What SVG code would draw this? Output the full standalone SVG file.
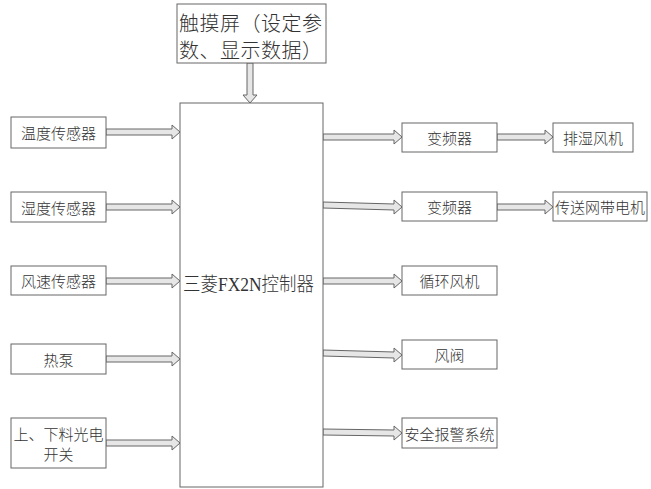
<svg xmlns="http://www.w3.org/2000/svg" width="651" height="489" viewBox="0 0 651 489">
<style>
rect.box{fill:#fff;stroke:#666;stroke-width:1}
text{font-family:"Noto Sans CJK SC","Liberation Sans",sans-serif;fill:#333;font-weight:300}
text.ctl{font-family:"Liberation Serif","Noto Sans CJK SC",serif;font-size:19px;dominant-baseline:central}
.t15{font-size:15px;text-anchor:middle;dominant-baseline:central}
.t20{font-size:20px;dominant-baseline:central}
.arr{fill:#e6e6e6;stroke:#666;stroke-width:1;stroke-linejoin:miter}
</style>
<rect width="651" height="489" fill="#fff"/>
<g id="connectors">
<polygon class="arr" points="247,63 253,63 253,95 257,95 250,103 243,95 247,95"/>
<polygon class="arr" points="106,129 172,129 172,125 180,132 172,139 172,135 106,135"/>
<polygon class="arr" points="106,204 172,204 172,200 180,207 172,214 172,210 106,210"/>
<polygon class="arr" points="106,278 172,278 172,274 180,281 172,288 172,284 106,284"/>
<polygon class="arr" points="106,356 172,356 172,352 180,359 172,366 172,362 106,362"/>
<polygon class="arr" points="106,440 172,440 172,436 180,443 172,450 172,446 106,446"/>
<polygon class="arr" points="323,134 394,134 394,130 402,137 394,144 394,140 323,140"/>
<polygon class="arr" points="323,202 394,204 394,200 402,207 394,214 394,210 323,208"/>
<polygon class="arr" points="323,278 394,278 394,274 402,281 394,288 394,284 323,284"/>
<polygon class="arr" points="323,350 394,352 394,348 402,355 394,362 394,358 323,356"/>
<polygon class="arr" points="323,429 394,430 394,426 402,433 394,440 394,436 323,435"/>
<polygon class="arr" points="497,134 545,134 545,130 553,137 545,144 545,140 497,140"/>
<polygon class="arr" points="497,204 545,204 545,200 553,207 545,214 545,210 497,210"/>
</g>
<g id="touch">
<rect class="box" x="177" y="4" width="149" height="59"/>
<text class="t20" x="179" y="22" textLength="143" lengthAdjust="spacing">触摸屏（设定参</text>
<text class="t20" x="179" y="49" textLength="143" lengthAdjust="spacing">数、显示数据）</text>
</g>
<g id="controller">
<rect class="box" x="180" y="103" width="143" height="384"/>
<text class="ctl" x="183" y="284" textLength="131" lengthAdjust="spacingAndGlyphs">三菱FX2N控制器</text>
</g>
<g id="temp">
<rect class="box" x="11" y="117" width="95" height="31"/>
<text class="t15" x="58.5" y="132.5">温度传感器</text>
</g>
<g id="humid">
<rect class="box" x="11" y="192" width="95" height="30"/>
<text class="t15" x="58.5" y="207">湿度传感器</text>
</g>
<g id="wind">
<rect class="box" x="11" y="266" width="95" height="29"/>
<text class="t15" x="58.5" y="280.5">风速传感器</text>
</g>
<g id="heatpump">
<rect class="box" x="11" y="344" width="95" height="30"/>
<text class="t15" x="58.5" y="359">热泵</text>
</g>
<g id="photo">
<rect class="box" x="11" y="418" width="95" height="50"/>
<text class="t15" x="58.5" y="433">上、下料光电</text>
<text class="t15" x="58.5" y="453">开关</text>
</g>
<g id="vfd1">
<rect class="box" x="402" y="123" width="95" height="29"/>
<text class="t15" x="449.5" y="137.5">变频器</text>
</g>
<g id="exhaust">
<rect class="box" x="553" y="123" width="80" height="29"/>
<text class="t15" x="593" y="137.5">排湿风机</text>
</g>
<g id="vfd2">
<rect class="box" x="402" y="192" width="95" height="29"/>
<text class="t15" x="449.5" y="206.5">变频器</text>
</g>
<g id="belt">
<rect class="box" x="553" y="192" width="94" height="29"/>
<text class="t15" x="600" y="206.5">传送网带电机</text>
</g>
<g id="circfan">
<rect class="box" x="402" y="266" width="95" height="29"/>
<text class="t15" x="449.5" y="280.5">循环风机</text>
</g>
<g id="damper">
<rect class="box" x="402" y="340" width="95" height="29"/>
<text class="t15" x="449.5" y="354.5">风阀</text>
</g>
<g id="alarm">
<rect class="box" x="402" y="418" width="95" height="30"/>
<text class="t15" x="449.5" y="433">安全报警系统</text>
</g>
</svg>
